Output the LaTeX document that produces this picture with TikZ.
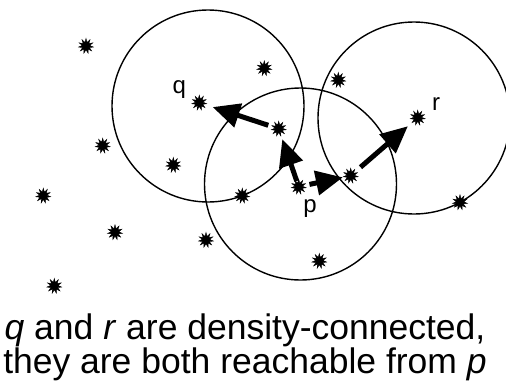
\documentclass[tikz,border=0pt]{standalone}
\usepackage{fontspec}
\setmainfont{Liberation Sans}
\usetikzlibrary{shapes.geometric,arrows.meta}
\begin{document}
\begin{tikzpicture}[x=1pt,y=-1pt,
  pt/.style={star,star points=11,star point ratio=2.0,fill=black,draw=black,line width=0.4pt,minimum size=15pt,inner sep=0pt},
  ring/.style={draw=black,line width=1.4pt},
  reach/.style={line width=5pt,-{Triangle[length=27pt,width=24pt]}},
  lab/.style={font=\fontsize{24}{26}\selectfont,inner sep=0pt}]
\useasboundingbox (0,0) rectangle (506,383);
\begin{scope}
\clip (0,0) rectangle (506,383);
\draw[ring] (208,106) circle[radius=96];
\draw[ring] (300.5,184) circle[radius=96];
\draw[ring] (414,118) circle[radius=96];
\end{scope}
\node[pt] (a1) at (86,46) {};
\node[pt] (a2) at (264.3,68.3) {};
\node[pt] (a3) at (338.3,80) {};
\node[pt] (q) at (199.3,102.7) {};
\node[pt] (c) at (278.7,128.7) {};
\node[pt] (r) at (417.7,117.7) {};
\node[pt] (a7) at (102.7,145.7) {};
\node[pt] (a8) at (173.3,165) {};
\node[pt] (d) at (350.7,175.7) {};
\node[pt] (p) at (298.7,186.7) {};
\node[pt] (a11) at (43.3,195.7) {};
\node[pt] (a12) at (242.3,195.7) {};
\node[pt] (a13) at (460,202.3) {};
\node[pt] (a14) at (115,232.3) {};
\node[pt] (a15) at (206,240) {};
\node[pt] (a16) at (319.3,261) {};
\node[pt] (a17) at (54.3,286) {};
\node[lab] (lq) at (179.3,90) {q};
\node[lab] (lr) at (436,104) {r};
\node[lab] (lp) at (310,209) {p};
\draw[reach,shorten <=11pt,shorten >=14pt] (c.center) -- (q.center);
\draw[reach,shorten <=6pt,shorten >=11pt] (p.center) -- (c.center);
\draw[reach,shorten <=11pt,shorten >=8pt] (p.center) -- (d.center);
\draw[reach,shorten <=13pt,shorten >=13pt] (d.center) -- (r.center);
\node[font=\fontsize{35.5}{34}\selectfont,align=center,inner sep=0pt] (cap) at (245,347.5)
  {\textit{q} and \textit{r} are density-connected,\\they are both reachable from \textit{p}};
\end{tikzpicture}
\end{document}
